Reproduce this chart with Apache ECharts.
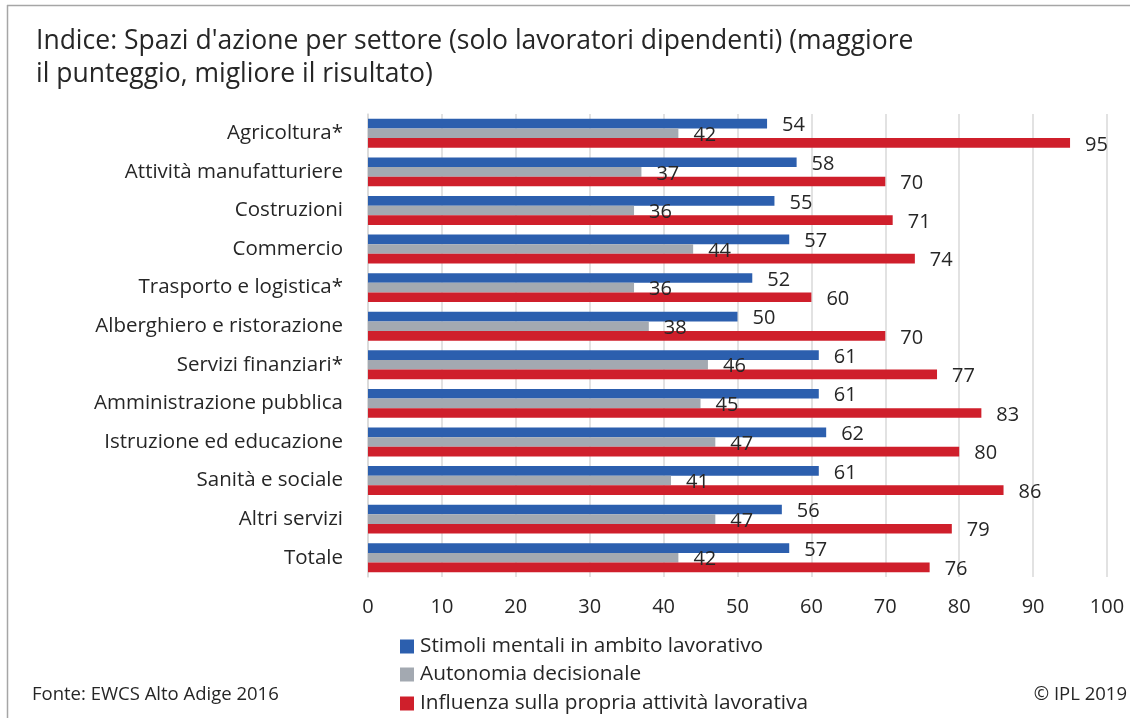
<!DOCTYPE html>
<html><head><meta charset="utf-8">
<script src="https://cdn.jsdelivr.net/npm/echarts@6/dist/echarts.min.js"></script>
<style>html,body{margin:0;padding:0;background:#fff}#c{width:1134px;height:718px}</style>
</head><body><div id="c"></div>
<script>
const categories = ["Agricoltura*","Attività manufatturiere","Costruzioni","Commercio","Trasporto e logistica*","Alberghiero e ristorazione","Servizi finanziari*","Amministrazione pubblica","Istruzione ed educazione","Sanità e sociale","Altri servizi","Totale"];
const seriesNames = ["Stimoli mentali in ambito lavorativo","Autonomia decisionale","Influenza sulla propria attività lavorativa"];
const stimoli = [54,58,55,57,52,50,61,61,62,61,56,57];
const autonomia = [42,37,36,44,36,38,46,45,47,41,47,42];
const influenza = [95,70,71,74,60,70,77,83,80,86,79,76];
const colors = ["#2c5fae","#a3a9b1","#cf1f2b"];
const FONT = "Open Sans";
const TXT = "#262626";

const chart = echarts.init(document.getElementById('c'));
const mk = (name, data, color) => ({
  name, type: 'bar', data, barGap: '0%', barCategoryGap: '25%',
  itemStyle: {color},
  label: {show: true, position: 'right', distance: 15, fontSize: 20, fontFamily: FONT, color: TXT, offset: [0, 2]},
  emphasis: {disabled: true}
});
const legendTops = [636, 664, 693];
chart.setOption({
  animation: false,
  textStyle: {fontFamily: FONT},
  title: {
    text: "Indice: Spazi d'azione per settore (solo lavoratori dipendenti) (maggiore\nil punteggio, migliore il risultato)",
    left: 31, top: 20,
    textStyle: {fontSize: 26.5, fontWeight: 'normal', color: TXT, fontFamily: FONT, lineHeight: 33}
  },
  grid: {left: 368, right: 27, top: 114, bottom: 141, containLabel: false},
  xAxis: {
    type: 'value', min: 0, max: 100, interval: 10,
    axisLine: {show: false}, axisTick: {show: false},
    axisLabel: {fontSize: 20, color: TXT, fontFamily: FONT, margin: 20},
    splitLine: {show: true, lineStyle: {color: '#d9d9d9', width: 1.5}}
  },
  yAxis: {
    type: 'category', data: categories, inverse: true,
    axisLine: {show: true, lineStyle: {color: '#d9d9d9', width: 1.5}},
    axisTick: {show: false},
    axisLabel: {fontSize: 20.5, color: TXT, fontFamily: FONT, margin: 25}
  },
  legend: seriesNames.map((n, i) => ({
    orient: 'vertical', left: 400, top: legendTops[i], padding: 0,
    itemWidth: 14, itemHeight: 14, icon: 'rect',
    textStyle: {fontSize: 20.8, color: TXT, fontFamily: FONT, padding: [0,0,0,1]},
    selectedMode: false,
    data: [n]
  })),
  series: [mk(seriesNames[0], stimoli, colors[0]), mk(seriesNames[1], autonomia, colors[1]), mk(seriesNames[2], influenza, colors[2])],
  graphic: [
    {type: 'line', shape: {x1: 7, y1: 5.5, x2: 1130, y2: 5.5}, style: {stroke: '#a6a6a6', lineWidth: 1.5}},
    {type: 'line', shape: {x1: 7.5, y1: 5, x2: 7.5, y2: 718}, style: {stroke: '#a6a6a6', lineWidth: 1.5}},
    {type: 'text', left: 32, top: 685, style: {text: 'Fonte: EWCS Alto Adige 2016', fontSize: 18.5, fill: TXT, fontFamily: FONT}},
    {type: 'text', right: 7, top: 685, style: {text: '© IPL 2019', fontSize: 18.5, fill: TXT, fontFamily: FONT}}
  ]
});
</script></body></html>
